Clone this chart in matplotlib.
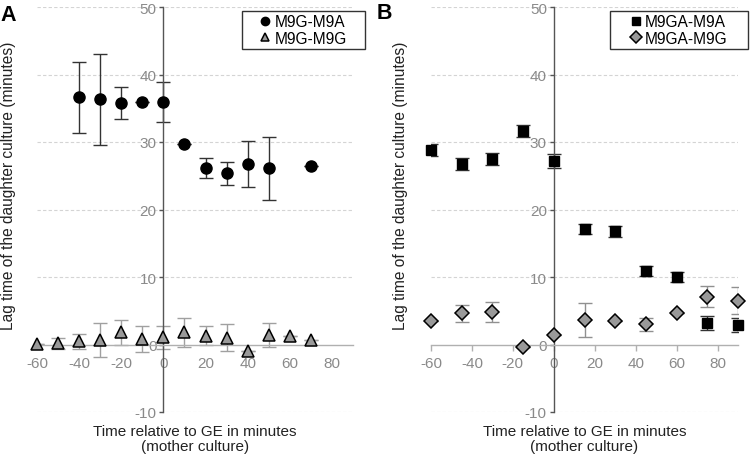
import matplotlib
matplotlib.use("Agg")
import matplotlib.pyplot as plt
from matplotlib.patches import Rectangle

plt.rcParams['font.family'] = ['Liberation Sans', 'DejaVu Sans']
plt.rcParams['axes.unicode_minus'] = False

# ---- Panel A data ----
a_circ_x = [-40, -30, -20, -10, 0, 10, 20, 30, 40, 50, 70]
a_circ_y = [36.6, 36.3, 35.8, 35.9, 35.9, 29.7, 26.1, 25.4, 26.8, 26.1, 26.4]
a_circ_e = [5.2, 6.7, 2.4, 0, 3.0, 0, 1.5, 1.7, 3.4, 4.7, 0]

a_tri_x = [-60, -50, -40, -30, -20, -10, 0, 10, 20, 30, 40, 50, 60, 70]
a_tri_y = [0.1, 0.2, 0.5, 0.7, 1.8, 0.8, 1.1, 1.8, 1.3, 1.0, -1.0, 1.4, 1.2, 0.6]
a_tri_e = [0, 0.8, 1.1, 2.5, 1.8, 1.9, 1.7, 2.2, 1.4, 2.0, 0, 1.8, 0, 0]

# ---- Panel B data ----
b_sq_x = [-60, -45, -30, -15, 0, 15, 30, 45, 60, 75, 90]
b_sq_y = [28.8, 26.8, 27.5, 31.6, 27.2, 17.1, 16.8, 10.9, 10.0, 3.2, 2.9]
b_sq_e = [0.9, 0.9, 0.9, 0.9, 1.0, 0.8, 0.8, 0.8, 0.8, 1.0, 1.0]

b_dia_x = [-60, -45, -30, -15, 0, 15, 30, 45, 60, 75, 90]
b_dia_y = [3.5, 4.6, 4.8, -0.4, 1.4, 3.6, 3.5, 3.0, 4.6, 7.1, 6.5]
b_dia_e = [0, 1.3, 1.5, 0, 0, 2.5, 0, 1.0, 0, 1.5, 2.0]

xticks = [-60, -40, -20, 0, 20, 40, 60, 80]
yticks = [-10, 0, 10, 20, 30, 40, 50]

xlabel = "Time relative to GE in minutes\n(mother culture)"
ylabel = "Lag time of the daughter culture (minutes)"

W, H = 750, 456
fig = plt.figure(figsize=(7.5, 4.56), dpi=100)
axA = fig.add_axes([37 / W, 1 - 413 / H, 316 / W, 405 / H])
axB = fig.add_axes([431 / W, 1 - 413 / H, 307 / W, 405 / H])

tick_col = '#8a8a8a'


def style(ax, xtick_len):
    ax.set_xlim(-60, 90)
    ax.set_ylim(-10, 50)
    ax.patch.set_alpha(0)
    for s in ['top', 'right']:
        ax.spines[s].set_visible(False)
    ax.spines['left'].set_position(('data', 0))
    ax.spines['bottom'].set_position(('data', 0))
    ax.spines['left'].set_color('#555555')
    ax.spines['left'].set_linewidth(1.0)
    ax.spines['bottom'].set_color('#b0b0b0')
    ax.spines['bottom'].set_linewidth(1.0)
    ax.set_xticks(xticks)
    ax.set_yticks(yticks)
    ax.tick_params(axis='y', direction='out', length=3, width=1, color='#555555',
                   labelcolor=tick_col, labelsize=11, pad=2)
    ax.tick_params(axis='x', direction='out', length=xtick_len, width=1,
                   color='#b0b0b0', labelcolor=tick_col, labelsize=11,
                   pad=8.5 - xtick_len)
    for yv in yticks:
        if yv != 0:
            ax.axhline(yv, color='#d4d4d4', lw=0.8, ls=(0, (3, 2)), zorder=0)
    ax.text(0.5, -12 / 405, xlabel, transform=ax.transAxes, ha='center',
            va='top', fontsize=11, color='#222222', linespacing=1.05)


style(axA, 0)
style(axB, 4)

# Panel A
axA.errorbar(a_circ_x, a_circ_y, yerr=a_circ_e, fmt='none', ecolor='#333333',
             elinewidth=1, capsize=5, capthick=1, zorder=2)
axA.plot(a_circ_x, a_circ_y, 'o', ms=8, mfc='black', mec='black', ls='none',
         zorder=3, clip_on=False, label='M9G-M9A')
axA.errorbar(a_tri_x, a_tri_y, yerr=a_tri_e, fmt='none', ecolor='#a0a0a0',
             elinewidth=1, capsize=5, capthick=1, zorder=2)
axA.plot(a_tri_x, a_tri_y, '^', ms=8.5, mfc='#999999', mec='black', mew=1.1,
         ls='none', zorder=3, clip_on=False, label='M9G-M9G')

# Panel B
axB.errorbar(b_sq_x, b_sq_y, yerr=b_sq_e, fmt='none', ecolor='#333333',
             elinewidth=1, capsize=5, capthick=1, zorder=2)
axB.plot(b_sq_x, b_sq_y, 's', ms=7.5, mfc='black', mec='black', ls='none',
         zorder=3, clip_on=False, label='M9GA-M9A')
axB.errorbar(b_dia_x, b_dia_y, yerr=b_dia_e, fmt='none', ecolor='#909090',
             elinewidth=1, capsize=5, capthick=1, zorder=2)
axB.plot(b_dia_x, b_dia_y, 'D', ms=7.5, mfc='#999999', mec='black', mew=1.1,
         ls='none', zorder=3, clip_on=False, label='M9GA-M9G')


def legend(ax, x0, y0, x1, y1):
    rect = Rectangle((x0 / W, 1 - y1 / H), (x1 - x0) / W, (y1 - y0) / H,
                     transform=fig.transFigure, facecolor='white',
                     edgecolor='#333333', lw=1.0, clip_on=False, zorder=4)
    ax.add_patch(rect)
    leg = ax.legend(loc='center', bbox_to_anchor=((x0 + x1) / 2 / W,
                                                  1 - (y0 + y1) / 2 / H),
                    bbox_transform=fig.transFigure, fontsize=11.2,
                    frameon=False, handlelength=0.7, handletextpad=0.25,
                    borderpad=0, labelspacing=0.12, markerscale=0.75)
    leg.set_zorder(5)
    return leg


legend(axA, 242, 12, 365, 50)
legend(axB, 610, 12, 748, 50)

# y labels
fig.text(9 / W, 1 - 186 / H, ylabel, rotation=90, ha='center', va='center',
         fontsize=11.2, color='#222222')
fig.text(400 / W, 1 - 186 / H, ylabel, rotation=90, ha='center', va='center',
         fontsize=11.2, color='#222222')

# panel letters
fig.text(0 / W, 1 - 5 / H, 'A', ha='left', va='top', fontsize=15.5,
         fontweight='bold')
fig.text(377 / W, 1 - 3 / H, 'B', ha='left', va='top', fontsize=15.5,
         fontweight='bold')

fig.savefig('out.png', dpi=100)
